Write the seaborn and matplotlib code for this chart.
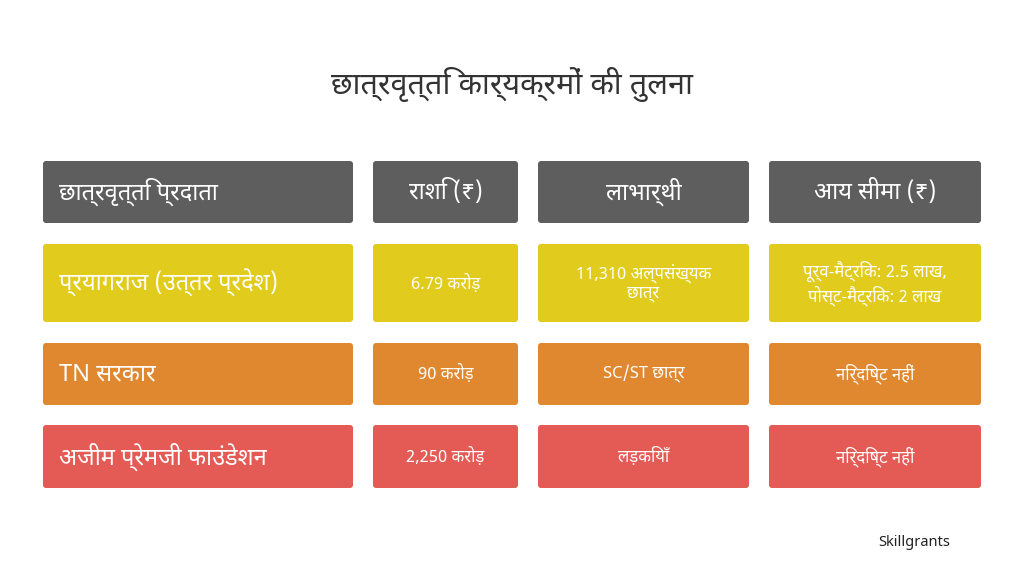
import matplotlib
matplotlib.use("Agg")
import matplotlib.pyplot as plt
from matplotlib.patches import FancyBboxPatch
from matplotlib import font_manager
import seaborn as sns

sns.set_theme(style="white")
avail = {f.name for f in font_manager.fontManager.ttflist}
fams = [f for f in ["Noto Sans Devanagari", "Lohit Devanagari", "Noto Sans", "DejaVu Sans"] if f in avail]
plt.rcParams["font.family"] = fams

title = "छात्रवृत्ति कार्यक्रमों की तुलना"
headers = ["छात्रवृत्ति प्रदाता", "राशि (₹)", "लाभार्थी", "आय सीमा (₹)"]
providers = ["प्रयागराज (उत्तर प्रदेश)", "TN सरकार", "अजीम प्रेमजी फाउंडेशन"]
amounts = ["6.79 करोड़", "90 करोड़", "2,250 करोड़"]
beneficiaries = ["11,310 अल्पसंख्यक\nछात्र", "SC/ST छात्र", "लड़कियाँ"]
income_limits = ["पूर्व-मैट्रिक: 2.5 लाख,\nपोस्ट-मैट्रिक: 2 लाख", "निर्दिष्ट नहीं", "निर्दिष्ट नहीं"]
source = "Skillgrants"

row_colors = ["#e1cb1c", "#e0882f", "#e45a55"]
header_color = "#5e5e5e"
col_x = [(43, 353), (373, 518), (538, 749), (769, 981)]
row_y = [(161, 223), (244, 322), (343, 405), (425, 488)]

fig = plt.figure(figsize=(10.24, 5.76), dpi=100)
ax = fig.add_axes([0, 0, 1, 1])
ax.set_xlim(0, 1024); ax.set_ylim(576, 0); ax.axis("off")

def cell(c, r, text, color, size, weight, left=False):
    x0, x1 = col_x[c]; y0, y1 = row_y[r]
    ax.add_patch(FancyBboxPatch((x0 + 3, y0 + 3), x1 - x0 - 6, y1 - y0 - 6,
                                boxstyle="round,pad=3", fc=color, ec="none"))
    tx = x0 + 16 if left else (x0 + x1) / 2
    ax.text(tx, (y0 + y1) / 2, text, ha="left" if left else "center", va="center",
            color="white", fontsize=size, fontweight=weight, linespacing=1.2)

for c, h in enumerate(headers):
    cell(c, 0, h, header_color, 17, "bold", left=(c == 0))
rows = list(zip(providers, amounts, beneficiaries, income_limits))
for r, vals in enumerate(rows):
    for c, v in enumerate(vals):
        if c == 0:
            cell(c, r + 1, v, row_colors[r], 17, "bold" if r else "normal", left=True)
        else:
            cell(c, r + 1, v, row_colors[r], 12, "normal")

ax.text(512, 85, title, ha="center", va="center", fontsize=22, fontweight="bold", color="#333333")
ax.text(878, 542, source, ha="left", va="center", fontsize=10.5, color="#222222")
fig.savefig("out.png", dpi=100, facecolor="white")
